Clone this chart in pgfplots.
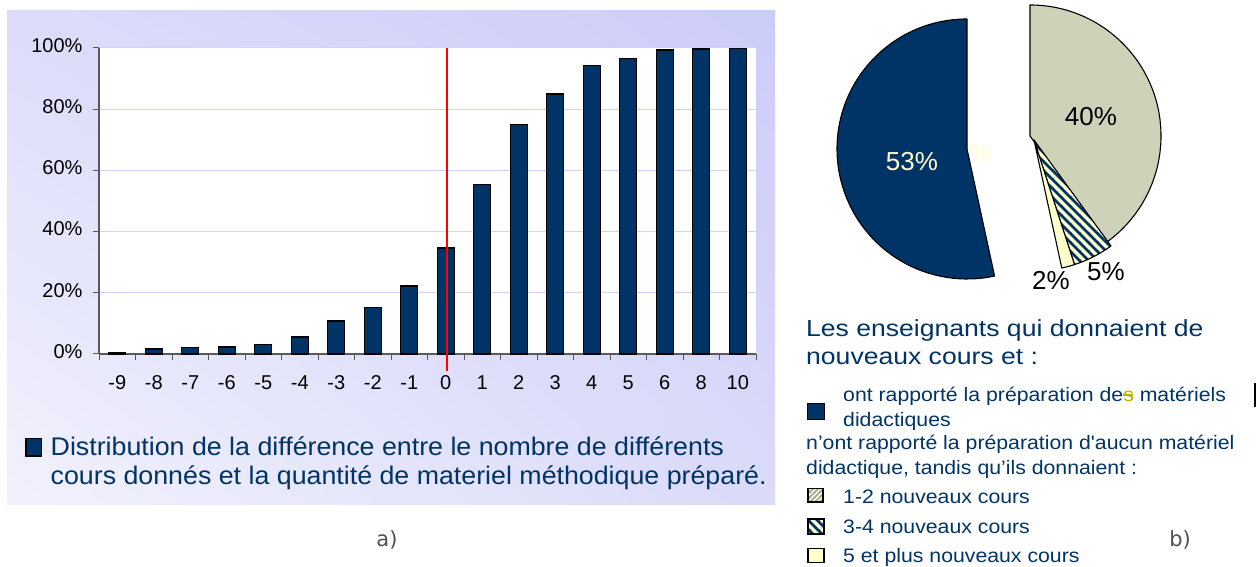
\documentclass[border=0pt]{standalone}
\usepackage{pgfplots}
\pgfplotsset{compat=1.18}
\usepackage{pgfplotstable}
\usepackage{fontspec}
\setmainfont{Liberation Sans}
\newfontfamily\labfont{DejaVu Sans}
\newfontfamily\wideA[FakeStretch=1.05]{Liberation Sans}
\newfontfamily\wideB[FakeStretch=1.14]{Liberation Sans}
\newfontfamily\wideC[FakeStretch=1.09]{Liberation Sans}
\usetikzlibrary{patterns,shadings}

\definecolor{navy}{HTML}{003366}
\definecolor{ltyellow}{HTML}{FFFFCC}
\definecolor{hatchgreen}{HTML}{CDD2B8}
\definecolor{gridlav}{HTML}{D2D2F4}
\definecolor{axgray}{HTML}{5A5A5A}
\definecolor{olivetxt}{HTML}{BDB000}
\definecolor{stripegray}{HTML}{9EA6A8}
\definecolor{labgray}{HTML}{505050}
\definecolor{redline}{RGB}{255,0,0}
\definecolor{bgUL}{RGB}{220,220,250}
\definecolor{bgUR}{RGB}{204,204,249}
\definecolor{bgLL}{RGB}{242,242,253}
\definecolor{bgLR}{RGB}{218,218,249}

\newcommand\strikes{{\color{olivetxt}\rlap{\rule[0.3em]{0.5em}{0.07em}}s}}

\pgfdeclarepatternformonly{nwstripes}{\pgfqpoint{-1pt}{-1pt}}{\pgfqpoint{10pt}{10pt}}{\pgfqpoint{9pt}{9pt}}{%
  \pgfsetlinewidth{2.6pt}%
  \pgfpathmoveto{\pgfqpoint{-1pt}{10pt}}\pgfpathlineto{\pgfqpoint{10pt}{-1pt}}%
  \pgfusepath{stroke}}
\pgfdeclarepatternformonly{nestripes}{\pgfqpoint{-1pt}{-1pt}}{\pgfqpoint{6pt}{6pt}}{\pgfqpoint{5pt}{5pt}}{%
  \pgfsetlinewidth{1.5pt}%
  \pgfpathmoveto{\pgfqpoint{-1pt}{-1pt}}\pgfpathlineto{\pgfqpoint{6pt}{6pt}}%
  \pgfusepath{stroke}}

\pgfplotstableread{
x  y
0  0.4
1  1.6
2  2.1
3  2.3
4  3.2
5  5.6
6  10.8
7  15.3
8  22.2
9  34.6
10 55.4
11 75.0
12 85.0
13 94.2
14 96.6
15 99.3
16 99.7
17 99.8
}\bardata

\pgfplotstableread{
share
53.4
40.0
5.0
1.6
}\piedata

\begin{document}
\begin{tikzpicture}[x=1pt,y=1pt]
\useasboundingbox (0,0) rectangle (1256,567);

% panel a background
\shade[upper left=bgUL, upper right=bgUR, lower left=bgLL, lower right=bgLR]
  (7,62) rectangle (775,556);

\begin{axis}[
  at={(99pt,213pt)}, anchor=south west,
  scale only axis, width=657pt, height=306pt,
  xmin=-0.5, xmax=17.5, ymin=0, ymax=100,
  axis lines*=left,
  axis line style={draw=axgray, line width=1.3pt, -},
  axis background/.style={fill=white},
  clip=false,
  xtick={-0.5,0.5,...,17.5},
  x tick label as interval,
  xticklabels={-9,-8,-7,-6,-5,-4,-3,-2,-1,0,1,2,3,4,5,6,8,10},
  ytick={0,20,40,60,80,100},
  yticklabels={0\%,20\%,40\%,60\%,80\%,100\%},
  tick align=outside,
  major tick length=6pt,
  tick style={draw=axgray, line width=1pt},
  ymajorgrids,
  grid style={draw=gridlav, line width=1pt},
  typeset ticklabels with strut,
  ticklabel style={font=\fontsize{20pt}{22pt}\selectfont, text=black},
  yticklabel style={xshift=-7pt},
  xticklabel style={yshift=-11pt},
]
\addplot[ybar, bar width=17pt, fill=navy, draw=black, line width=1.3pt] table[x=x,y=y] {\bardata};
\addplot[color=redline, line width=2pt, no marks, forget plot] coordinates {(9.04,100) (9.04,-5.6)};
\end{axis}

% legend a
\filldraw[fill=navy, draw=black, line width=1.3pt] (26,111) rectangle (41.5,128.5);
\node[anchor=base west, inner sep=0pt, text=navy, font=\wideA\fontsize{25.5pt}{30pt}\selectfont] at (50.5,111)
  {Distribution de la différence entre le nombre de différents};
\node[anchor=base west, inner sep=0pt, text=navy, font=\wideA\fontsize{25.5pt}{30pt}\selectfont] at (50.5,82)
  {cours donnés et la quantité de materiel méthodique préparé.};
\node[text=labgray, font=\labfont\fontsize{21pt}{25pt}\selectfont, inner sep=0pt] at (387,27) {a)};

% pie
\pgfplotstablegetelem{0}{share}\of\piedata
\pgfmathsetmacro\aA{90+3.6*\pgfplotsretval}
\pgfplotstablegetelem{1}{share}\of\piedata
\pgfmathsetmacro\aB{90-3.6*\pgfplotsretval}
\pgfplotstablegetelem{2}{share}\of\piedata
\pgfmathsetmacro\aC{\aB-3.6*\pgfplotsretval}
\pgfplotstablegetelem{3}{share}\of\piedata
\pgfmathsetmacro\aD{\aC-3.6*\pgfplotsretval}

\begin{axis}[
  at={(800pt,0pt)}, anchor=south west,
  scale only axis, width=456pt, height=567pt,
  xmin=800, xmax=1256, ymin=0, ymax=567,
  hide axis, clip=false,
]
\node[text=ltyellow, font=\fontsize{26pt}{30pt}\selectfont, inner sep=0pt] at (axis cs:980,414) {\%};
\filldraw[fill=navy, draw=black, line width=1.1pt, line join=round]
  (axis cs:967,418) -- ++(90:130pt) arc[start angle=90, end angle=\aA, radius=130pt] -- cycle;
\filldraw[fill=hatchgreen, draw=black, line width=1.1pt, line join=round]
  (axis cs:1030,431) -- ++(90:131pt) arc[start angle=90, end angle=\aB, radius=131pt] -- cycle;
\fill[ltyellow]
  (axis cs:1034,427) -- ++(\aB:131pt) arc[start angle=\aB, end angle=\aC, radius=131pt] -- cycle;
\fill[pattern=nwstripes, pattern color=navy]
  (axis cs:1034,427) -- ++(\aB:131pt) arc[start angle=\aB, end angle=\aC, radius=131pt] -- cycle;
\draw[black, line width=1.1pt, line join=round]
  (axis cs:1034,427) -- ++(\aB:131pt) arc[start angle=\aB, end angle=\aC, radius=131pt] -- cycle;
\filldraw[fill=ltyellow, draw=black, line width=1.1pt, line join=round]
  (axis cs:1034,427) -- ++(\aC:131pt) arc[start angle=\aC, end angle=\aD, radius=131pt] -- cycle;
\node[text=ltyellow, font=\fontsize{26pt}{30pt}\selectfont, inner sep=0pt] at (axis cs:912,405) {53\%};
\node[text=black, font=\fontsize{26pt}{30pt}\selectfont, inner sep=0pt] at (axis cs:1091,450) {40\%};
\node[text=black, font=\fontsize{26pt}{30pt}\selectfont, inner sep=0pt] at (axis cs:1106,295) {5\%};
\node[text=black, font=\fontsize{26pt}{30pt}\selectfont, inner sep=0pt] at (axis cs:1051,286) {2\%};
\end{axis}

% legend b
\begin{scope}[every node/.style={anchor=base west, inner sep=0pt, text=navy}]
\node[font=\wideB\fontsize{23.3pt}{28pt}\selectfont] at (806,230.3) {Les enseignants qui donnaient de};
\node[font=\wideB\fontsize{23.3pt}{28pt}\selectfont] at (806,202) {nouveaux cours et :};
\node[font=\wideC\fontsize{19.5pt}{21pt}\selectfont] at (843,165.3) {ont rapporté la préparation de\strikes{} matériels};
\node[font=\wideC\fontsize{19.5pt}{21pt}\selectfont] at (843,140.3) {didactiques};
\node[font=\wideC\fontsize{19.5pt}{21pt}\selectfont] at (806,117) {n’ont rapporté la préparation d'aucun matériel};
\node[font=\wideC\fontsize{19.5pt}{21pt}\selectfont] at (806,92) {didactique, tandis qu’ils donnaient :};
\node[font=\wideC\fontsize{19.5pt}{21pt}\selectfont] at (843,63) {1-2 nouveaux cours};
\node[font=\wideC\fontsize{19.5pt}{21pt}\selectfont] at (843,33) {3-4 nouveaux cours};
\node[font=\wideC\fontsize{19.5pt}{21pt}\selectfont] at (843,4) {5 et plus nouveaux cours};
\end{scope}
\filldraw[fill=navy, draw=black, line width=1.3pt] (807.5,147.5) rectangle (824.5,163.5);
\fill[ltyellow] (808,65) rectangle (823,78.5);
\fill[pattern=nestripes, pattern color=stripegray] (808,65) rectangle (823,78.5);
\draw[black, line width=1.3pt] (808,65) rectangle (823,78.5);
\fill[ltyellow] (808,33) rectangle (824,48);
\fill[pattern=nwstripes, pattern color=navy] (808,33) rectangle (824,48);
\draw[black, line width=1.3pt] (808,33) rectangle (824,48);
\filldraw[fill=ltyellow, draw=black, line width=1.3pt] (808,4.5) rectangle (824,18.5);
\node[text=labgray, font=\labfont\fontsize{21pt}{25pt}\selectfont, inner sep=0pt] at (1180,27) {b)};
\draw[black, line width=2pt] (1254.5,160) -- (1254.5,184);
\end{tikzpicture}
\end{document}
